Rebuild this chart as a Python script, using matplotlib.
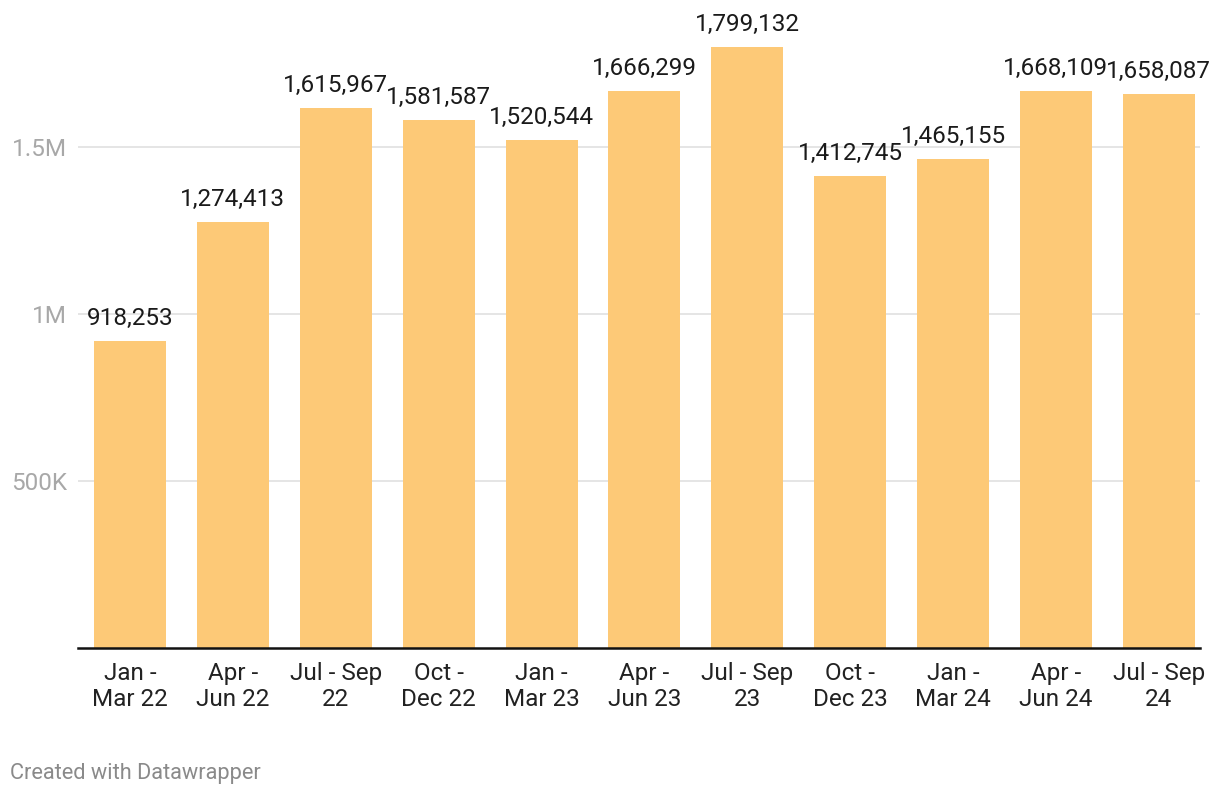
import matplotlib.pyplot as plt

plt.rcParams['font.family'] = ['Roboto', 'DejaVu Sans']

quarters = ["Jan -\nMar 22", "Apr -\nJun 22", "Jul - Sep\n22", "Oct -\nDec 22",
            "Jan -\nMar 23", "Apr -\nJun 23", "Jul - Sep\n23", "Oct -\nDec 23",
            "Jan -\nMar 24", "Apr -\nJun 24", "Jul - Sep\n24"]
values = [918253, 1274413, 1615967, 1581587, 1520544, 1666299,
          1799132, 1412745, 1465155, 1668109, 1658087]
yticks = [500000, 1000000, 1500000]
ytick_labels = ["500K", "1M", "1.5M"]

fig = plt.figure(figsize=(12.2, 7.96), dpi=100)
W, H = 1220, 796
left, right, bottom, top = 78, 1200, 648, 20
ax = fig.add_axes([left / W, 1 - bottom / H, (right - left) / W, (bottom - top) / H])

x = list(range(len(values)))
bars = ax.bar(x, values, width=0.70, color="#fdc977", zorder=2)

ax.set_xlim(-0.505, 10.4)
ax.set_ylim(0, (bottom - top) / 334 * 1e6)

ax.set_yticks(yticks)
ax.set_yticklabels(ytick_labels)
ax.yaxis.grid(True, color="#e3e3e3", linewidth=1.3, zorder=0)
ax.tick_params(axis="y", length=0, pad=8, labelsize=17.5, labelcolor="#a8a8a8")

ax.set_xticks(x)
ax.set_xticklabels(quarters, linespacing=1.2)
ax.tick_params(axis="x", length=0, pad=10, labelsize=17.5, labelcolor="#222222")

for s in ["top", "right", "left"]:
    ax.spines[s].set_visible(False)
ax.spines["bottom"].set_color("#111111")
ax.spines["bottom"].set_linewidth(1.8)
ax.spines["bottom"].set_zorder(3)

for b, v in zip(bars, values):
    ax.annotate(f"{v:,}", (b.get_x() + b.get_width() / 2, v),
                xytext=(0, 8), textcoords="offset points",
                ha="center", va="bottom", fontsize=17.5, color="#1a1a1a")

fig.text(10 / W, 1 - 773 / H, "Created with Datawrapper", fontsize=15.7,
         color="#8a8a8a", ha="left", va="center")

fig.savefig("out.png", dpi=100)
